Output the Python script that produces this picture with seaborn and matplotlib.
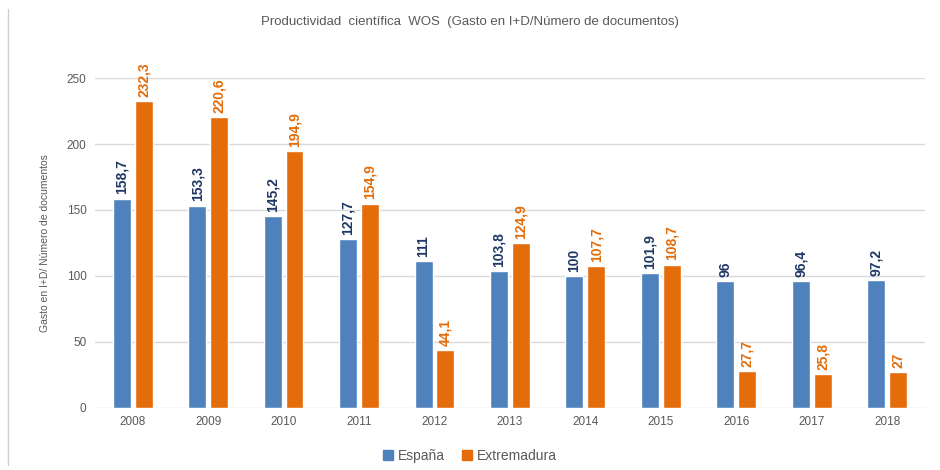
import numpy as np
import pandas as pd
import seaborn as sns
import matplotlib.pyplot as plt
from matplotlib.lines import Line2D

years = ["2008", "2009", "2010", "2011", "2012", "2013", "2014", "2015", "2016", "2017", "2018"]
espana = [158.7, 153.3, 145.2, 127.7, 111, 103.8, 100, 101.9, 96, 96.4, 97.2]
extremadura = [232.3, 220.6, 194.9, 154.9, 44.1, 124.9, 107.7, 108.7, 27.7, 25.8, 27]
series = ["España", "Extremadura"]

bar_colors = ["#4F81BD", "#E46C0A"]
label_colors = ["#1F3864", "#E46C0A"]

df = pd.DataFrame({
    "year": years * 2,
    "value": espana + extremadura,
    "serie": [series[0]] * len(years) + [series[1]] * len(years),
})

sns.set_style("white")
plt.rcParams["font.family"] = ["Liberation Sans", "DejaVu Sans"]

fig = plt.figure(figsize=(9.4, 4.7), dpi=100)
ax = fig.add_axes([0.101, 0.132, 0.883, 0.702])

sns.barplot(data=df, x="year", y="value", hue="serie", palette=bar_colors,
            saturation=1, width=0.58, gap=0.18, ax=ax, legend=False)

ax.set_ylim(0, 250)
ax.set_xlim(-0.5, len(years) - 0.5)
ax.set_yticks(np.arange(0, 251, 50))
ax.yaxis.grid(True, color="#D9D9D9", linewidth=1)
ax.set_axisbelow(True)
for s in ax.spines.values():
    s.set_visible(False)
ax.tick_params(axis="both", length=0, labelsize=8.5, labelcolor="#595959", pad=6)
ax.set_xlabel("")
ax.set_ylabel("Gasto en I+D/ Número de documentos", fontsize=7.5, color="#595959",
              labelpad=12)

# value labels
for cont, col in zip(ax.containers, label_colors):
    labels = [f"{v:g}".replace(".", ",") for v in cont.datavalues]
    ax.bar_label(cont, labels=labels, rotation=90, padding=3, color=col,
                 fontsize=10, fontweight="bold", clip_on=False,
                 family=["Liberation Sans Narrow", "Liberation Sans", "DejaVu Sans"])

fig.text(0.5, 0.953, "Productividad  científica  WOS  (Gasto en I+D/Número de documentos)",
         ha="center", va="center", fontsize=9.5, color="#595959")

handles = [plt.Rectangle((0, 0), 1, 1, color=c) for c in bar_colors]
fig.legend(handles, series, loc="center", bbox_to_anchor=(0.5, 0.03), ncol=2,
           frameon=False, fontsize=10, labelcolor="#595959", handlelength=0.7,
           handleheight=0.7, columnspacing=1.2, handletextpad=0.4)

# left frame line of the original screenshot
fig.add_artist(Line2D([0.008, 0.008], [0.01, 0.98], color="#D0D0D0", linewidth=1))

fig.savefig("out.png", dpi=100)
